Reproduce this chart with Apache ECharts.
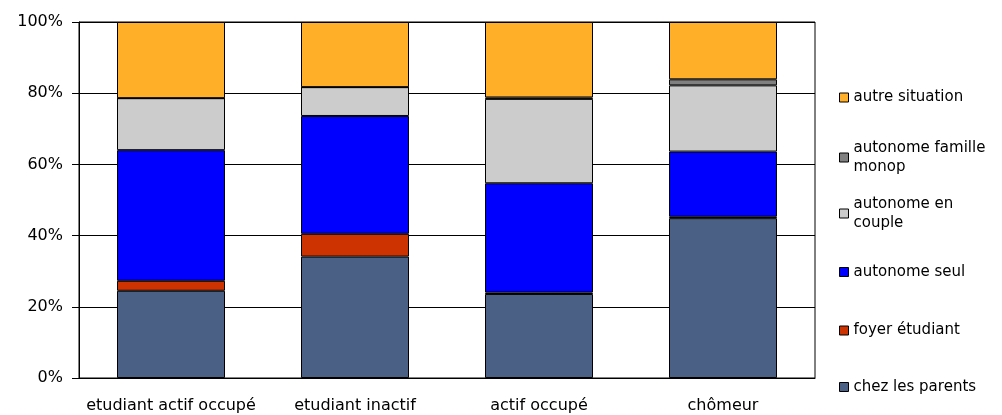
<!DOCTYPE html>
<html>
<head>
<meta charset="utf-8">
<script src="https://cdn.jsdelivr.net/npm/echarts@6/dist/echarts.min.js"></script>
<style>html,body{margin:0;padding:0;background:#fff;}#c{width:1002px;height:415px;}</style>
</head>
<body>
<div id="c"></div>
<script>
const categories = ['etudiant actif occupé', 'etudiant inactif', 'actif occupé', 'chômeur'];
const chezLesParents = [24.5, 34.1, 23.6, 44.9];
const foyerEtudiant = [2.8, 6.4, 0.4, 0.4];
const autonomeSeul = [36.7, 33.1, 30.7, 18.3];
const autonomeCouple = [14.6, 8.1, 23.7, 18.6];
const autonomeMonop = [0, 0, 0.4, 1.7];
const autreSituation = [21.4, 18.3, 21.2, 16.1];
const yTicks = [0, 20, 40, 60, 80, 100];

const seriesDefs = [
  {name: 'chez les parents', label: 'chez les parents', data: chezLesParents, color: '#4A6084'},
  {name: 'foyer étudiant', label: 'foyer étudiant', data: foyerEtudiant, color: '#CC3300'},
  {name: 'autonome seul', label: 'autonome seul', data: autonomeSeul, color: '#0000FF'},
  {name: 'autonome en couple', label: 'autonome en\ncouple', data: autonomeCouple, color: '#CCCCCC'},
  {name: 'autonome famille monop', label: 'autonome famille\nmonop', data: autonomeMonop, color: '#808080'},
  {name: 'autre situation', label: 'autre situation', data: autreSituation, color: '#FFAF28'}
];

const FONT = 'DejaVu Sans';
const legendCenters = {
  'autre situation': 97.5,
  'autonome famille monop': 157.5,
  'autonome en couple': 213.5,
  'autonome seul': 272,
  'foyer étudiant': 330.5,
  'chez les parents': 387
};
const LH = 19;

const legends = seriesDefs.map(s => {
  const multi = s.label.indexOf('\n') >= 0;
  return {
    data: [s.name],
    orient: 'vertical',
    left: 839,
    top: legendCenters[s.name] - (multi ? LH * 1.5 : LH / 2),
    padding: 0,
    itemWidth: 9,
    itemHeight: 9,
    selectedMode: false,
    icon: 'rect',
    itemStyle: {borderColor: '#000', borderWidth: 1},
    formatter: () => s.label,
    textStyle: {
      fontFamily: FONT, fontSize: 15, color: '#000', lineHeight: LH,
      padding: multi ? [LH, 0, 0, 0] : 0
    }
  };
});

const chart = echarts.init(document.getElementById('c'), null, {renderer: 'canvas'});
chart.setOption({
  animation: false,
  backgroundColor: '#fff',
  grid: {left: 79, right: 187, top: 22, bottom: 37, show: true, borderColor: '#000', borderWidth: 1},
  legend: legends,
  xAxis: {
    type: 'category',
    data: categories,
    axisLine: {lineStyle: {color: '#000', width: 1}},
    axisTick: {show: false},
    axisLabel: {fontFamily: FONT, fontSize: 16, color: '#000', margin: 20, interval: 0}
  },
  yAxis: {
    type: 'value',
    min: yTicks[0],
    max: yTicks[yTicks.length - 1],
    interval: 20,
    axisLine: {show: true, lineStyle: {color: '#000', width: 1}},
    axisTick: {show: true, length: 7, lineStyle: {color: '#000'}},
    axisLabel: {fontFamily: FONT, fontSize: 16, color: '#000', margin: 16, formatter: '{value}%'},
    splitLine: {show: true, lineStyle: {color: '#000', width: 1}}
  },
  series: seriesDefs.map(s => ({
    name: s.name,
    type: 'bar',
    stack: 'total',
    barWidth: 108,
    data: s.data,
    itemStyle: {color: s.color, borderColor: '#000', borderWidth: 1}
  }))
});
</script>
</body>
</html>
